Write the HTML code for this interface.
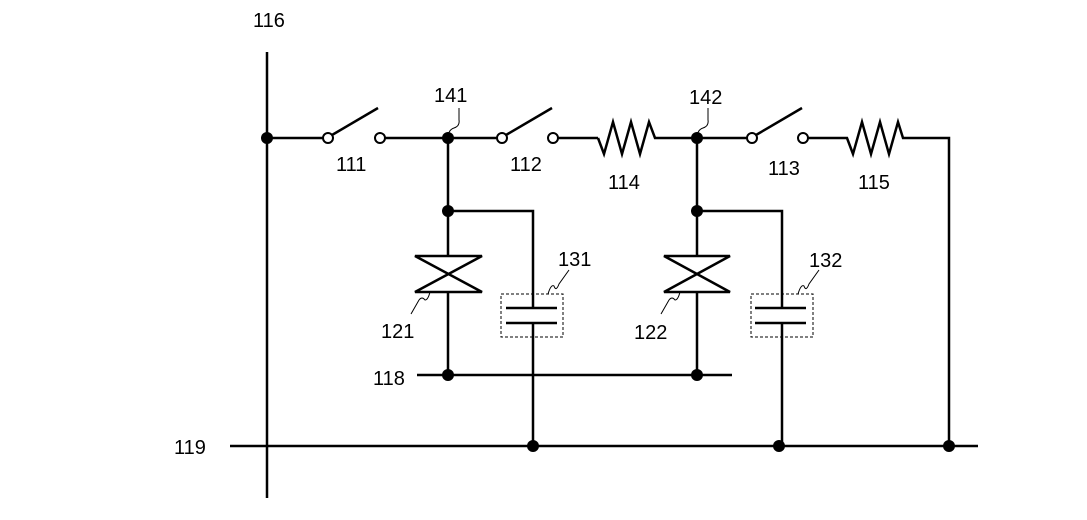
<!DOCTYPE html>
<html><head><style>html,body{margin:0;padding:0;background:#fff}svg{display:block}</style></head>
<body>
<svg width="1087" height="520" viewBox="0 0 1087 520" xmlns="http://www.w3.org/2000/svg" font-family="Liberation Sans, sans-serif" font-size="20" fill="#000">
<g stroke="#000" stroke-width="2.5" fill="none">
<line x1="267" y1="52" x2="267" y2="498"/>
<line x1="230" y1="446" x2="978" y2="446"/>
<line x1="267" y1="138" x2="323" y2="138"/>
<line x1="332" y1="135" x2="378" y2="108"/>
<line x1="385" y1="138" x2="497" y2="138"/>
<line x1="506" y1="135" x2="552" y2="108"/>
<line x1="558" y1="138" x2="598" y2="138"/>
<polyline points="598,138 604,154 613,122 622,154 631,122 640,154 649,122 655,138 747,138"/>
<line x1="756" y1="135" x2="802" y2="108"/>
<polyline points="808,138 847,138 853,154 862,122 871,154 880,122 889,154 898,122 903,138 949,138 949,446"/>
<line x1="448" y1="138" x2="448" y2="256"/>
<polyline points="448,211 533,211 533,308"/>
<line x1="533" y1="323" x2="533" y2="446"/>
<line x1="506" y1="308" x2="557" y2="308"/>
<line x1="506" y1="323" x2="557" y2="323"/>
<polygon points="415,256 482,256 415,292 482,292"/>
<line x1="448" y1="292" x2="448" y2="375"/>
<line x1="417" y1="375" x2="732" y2="375"/>
<line x1="697" y1="138" x2="697" y2="256"/>
<polyline points="697,211 782,211 782,308"/>
<line x1="782" y1="323" x2="782" y2="446"/>
<line x1="755" y1="308" x2="806" y2="308"/>
<line x1="755" y1="323" x2="806" y2="323"/>
<polygon points="664,256 730,256 664,292 730,292"/>
<line x1="697" y1="292" x2="697" y2="375"/>
</g>
<g stroke="#000" stroke-width="1" fill="none" stroke-dasharray="3,2">
<rect x="501" y="294" width="62" height="43"/>
<rect x="751" y="294" width="62" height="43"/>
</g>
<g stroke="#000" stroke-width="1" fill="none">
<path d="M448,138 q0,-8 6,-10 q6,-2 5,-8 l0,-12"/>
<path d="M697,138 q0,-8 6,-10 q6,-2 5,-8 l0,-12"/>
<path d="M548,294 q3,-10 6,-8 q2,6 5,-2 l10,-14"/>
<path d="M798,294 q3,-10 6,-8 q2,6 5,-2 l10,-14"/>
<path d="M430,292 q-2,8 -5,8 q-3,-4 -6,0 l-8,14"/>
<path d="M680,292 q-2,8 -5,8 q-3,-4 -6,0 l-8,14"/>
</g>
<g stroke="#000" stroke-width="2" fill="#fff">
<circle cx="328" cy="138" r="5"/><circle cx="380" cy="138" r="5"/>
<circle cx="502" cy="138" r="5"/><circle cx="553" cy="138" r="5"/>
<circle cx="752" cy="138" r="5"/><circle cx="803" cy="138" r="5"/>
</g>
<g fill="#000">
<circle cx="267" cy="138" r="6"/><circle cx="448" cy="138" r="6"/><circle cx="697" cy="138" r="6"/>
<circle cx="448" cy="211" r="6"/><circle cx="697" cy="211" r="6"/>
<circle cx="448" cy="375" r="6"/><circle cx="697" cy="375" r="6"/>
<circle cx="533" cy="446" r="6"/><circle cx="779" cy="446" r="6"/><circle cx="949" cy="446" r="6"/>
</g>
<g>
<text x="253" y="27">116</text>
<text x="434" y="102">141</text>
<text x="689" y="104">142</text>
<text x="336" y="171">111</text>
<text x="510" y="171">112</text>
<text x="608" y="189">114</text>
<text x="768" y="175">113</text>
<text x="858" y="189">115</text>
<text x="558" y="266">131</text>
<text x="809" y="267">132</text>
<text x="381" y="338">121</text>
<text x="634" y="339">122</text>
<text x="373" y="385">118</text>
<text x="174" y="454">119</text>
</g>
</svg>
</body></html>
